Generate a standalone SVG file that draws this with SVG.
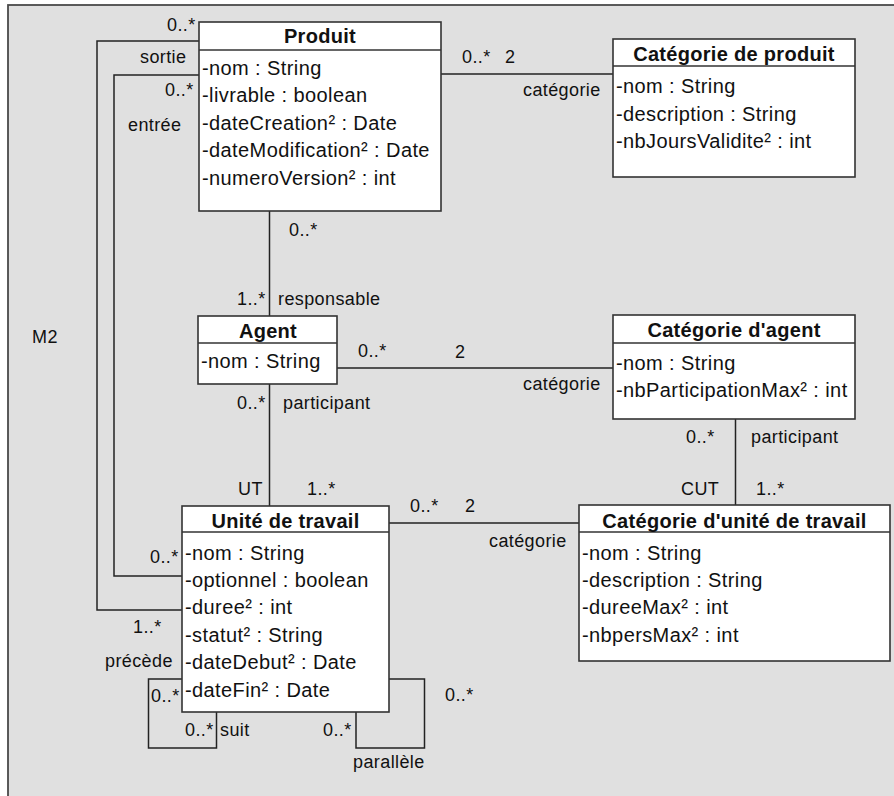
<svg xmlns="http://www.w3.org/2000/svg" width="894" height="796" viewBox="0 0 894 796">
<style>
text{font-family:"Liberation Sans",Arial,sans-serif;fill:#111}
.t{font-weight:bold;font-size:20px;letter-spacing:0.3px;text-anchor:middle}
.a{font-size:20px;letter-spacing:0.4px}
.l{font-size:18px;letter-spacing:0.4px}
.box{fill:#fff;stroke:#333;stroke-width:1.6}
.dv{stroke:#333;stroke-width:1.6}
.c{fill:none;stroke:#222;stroke-width:1.5}
</style>
<rect x="0" y="0" width="894" height="796" fill="#fff"/>
<rect id="frame" x="8" y="5" width="900" height="800" fill="#e0e0e0" stroke="#4a4a4a" stroke-width="1.8"/>
<text class="l" x="32" y="343">M2</text>

<g id="connectors">
<path class="c" d="M441 74H613"/>
<path class="c" d="M269.5 211V316"/>
<path class="c" d="M269.5 384V506"/>
<path class="c" d="M337 368H613"/>
<path class="c" d="M735.5 419V505"/>
<path class="c" d="M389 523H579"/>
<path class="c" d="M199 41H97V610H182"/>
<path class="c" d="M199 75H114V576H182"/>
<path class="c" d="M182 679H148.5V748H216.5V712"/>
<path class="c" d="M389 679H424.5V748H356V712"/>
<g id="labels">
<text class="l" x="167" y="31">0..*</text>
<text class="l" x="140" y="63">sortie</text>
<text class="l" x="165" y="96">0..*</text>
<text class="l" x="128" y="131">entrée</text>
<text class="l" x="462" y="63">0..*</text>
<text class="l" x="505" y="63">2</text>
<text class="l" x="523" y="96">catégorie</text>
<text class="l" x="289" y="236">0..*</text>
<text class="l" x="237" y="305">1..*</text>
<text class="l" x="278" y="305">responsable</text>
<text class="l" x="358" y="357">0..*</text>
<text class="l" x="455" y="358">2</text>
<text class="l" x="523" y="390">catégorie</text>
<text class="l" x="237" y="409">0..*</text>
<text class="l" x="283" y="409">participant</text>
<text class="l" x="686" y="443">0..*</text>
<text class="l" x="751" y="443">participant</text>
<text class="l" x="238" y="495">UT</text>
<text class="l" x="307" y="495">1..*</text>
<text class="l" x="681" y="495">CUT</text>
<text class="l" x="756" y="495">1..*</text>
<text class="l" x="410" y="512">0..*</text>
<text class="l" x="465" y="512">2</text>
<text class="l" x="489" y="547">catégorie</text>
<text class="l" x="150" y="563">0..*</text>
<text class="l" x="133" y="633">1..*</text>
<text class="l" x="105" y="667">précède</text>
<text class="l" x="151" y="702">0..*</text>
<text class="l" x="185" y="736">0..*</text>
<text class="l" x="220" y="736">suit</text>
<text class="l" x="323" y="736">0..*</text>
<text class="l" x="353" y="768">parallèle</text>
<text class="l" x="445" y="701">0..*</text>
</g>
</g>

<g id="produit">
<rect class="box" x="199" y="22" width="242" height="189"/>
<line class="dv" x1="199" y1="50" x2="441" y2="50"/>
<text class="t" x="320" y="43">Produit</text>
<text class="a" x="202" y="75">-nom : String</text>
<text class="a" x="202" y="102">-livrable : boolean</text>
<text class="a" x="202" y="130">-dateCreation² : Date</text>
<text class="a" x="202" y="157">-dateModification² : Date</text>
<text class="a" x="202" y="185">-numeroVersion² : int</text>
</g>

<g id="categorie-produit">
<rect class="box" x="613" y="39" width="242" height="138"/>
<line class="dv" x1="613" y1="66" x2="855" y2="66"/>
<text class="t" x="734" y="61">Catégorie de produit</text>
<text class="a" x="616" y="93">-nom : String</text>
<text class="a" x="616" y="120.5">-description : String</text>
<text class="a" x="616" y="147.5">-nbJoursValidite² : int</text>
</g>

<g id="agent">
<rect class="box" x="198" y="316" width="139" height="68"/>
<line class="dv" x1="198" y1="343" x2="337" y2="343"/>
<text class="t" x="268" y="338">Agent</text>
<text class="a" x="201" y="368">-nom : String</text>
</g>

<g id="categorie-agent">
<rect class="box" x="613" y="315" width="242" height="104"/>
<line class="dv" x1="613" y1="343" x2="855" y2="343"/>
<text class="t" x="734" y="337">Catégorie d'agent</text>
<text class="a" x="616" y="370">-nom : String</text>
<text class="a" x="616" y="397">-nbParticipationMax² : int</text>
</g>

<g id="unite-travail">
<rect class="box" x="182" y="506" width="207" height="206"/>
<line class="dv" x1="182" y1="532" x2="389" y2="532"/>
<text class="t" x="285.5" y="528">Unité de travail</text>
<text class="a" x="185" y="560">-nom : String</text>
<text class="a" x="185" y="587">-optionnel : boolean</text>
<text class="a" x="185" y="614">-duree² : int</text>
<text class="a" x="185" y="642">-statut² : String</text>
<text class="a" x="185" y="669">-dateDebut² : Date</text>
<text class="a" x="185" y="697">-dateFin² : Date</text>
</g>

<g id="categorie-unite-travail">
<rect class="box" x="579" y="505" width="311" height="156"/>
<line class="dv" x1="579" y1="532" x2="890" y2="532"/>
<text class="t" x="734.5" y="528">Catégorie d'unité de travail</text>
<text class="a" x="582" y="560">-nom : String</text>
<text class="a" x="582" y="587">-description : String</text>
<text class="a" x="582" y="614">-dureeMax² : int</text>
<text class="a" x="582" y="642">-nbpersMax² : int</text>
</g>
</svg>
